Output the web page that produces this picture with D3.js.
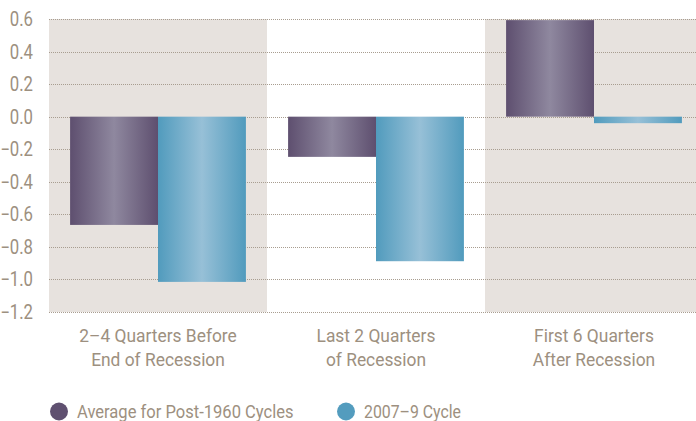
<!DOCTYPE html>
<html lang="en">
<head>
<meta charset="utf-8">
<title>Recession cycles</title>
<script src="https://d3js.org/d3.v7.min.js"></script>
<style>
  body { margin: 0; background: #fff; }
  svg text { font-family: "Roboto", sans-serif; fill: #9d9080; }
</style>
</head>
<body>
<script>
// data
const categories = ["2\u20134 Quarters Before|End of Recession", "Last 2 Quarters|of Recession", "First 6 Quarters|After Recession"];
const seriesNames = ["Average for Post-1960 Cycles", "2007\u20139 Cycle"];
const avgPost1960 = [-0.665, -0.247, 0.593];
const cycle2007 = [-1.015, -0.888, -0.04];
const yTicks = [0.6, 0.4, 0.2, 0.0, -0.2, -0.4, -0.6, -0.8, -1.0, -1.2];

const w = 696, h = 421;
const mLeft = 49, mRight = 703, mTop = 19, mBottom = 312;

const svg = d3.select("body").append("svg").attr("width", w).attr("height", h);

const x = d3.scaleBand().domain(d3.range(categories.length)).range([mLeft, mRight]);
const xs = d3.scaleBand().domain([0, 1]).range([0, x.bandwidth()]).paddingOuter(0.24).paddingInner(0);
const y = d3.scaleLinear().domain([-1.2, 0.6]).range([mBottom, mTop]);

// condensed look: squeeze text horizontally around its anchor point
function squeeze(sel, px, py, k) {
  sel.attr("transform", "translate(" + px + "," + py + ") scale(" + k + ",1)");
}

// gradients
const defs = svg.append("defs");
const grads = [["g0", "#5e4f6f", "#8f889f"], ["g1", "#519bbd", "#97c0d7"]];
grads.forEach(function(g) {
  const lg = defs.append("linearGradient").attr("id", g[0]).attr("x1", "0%").attr("x2", "100%").attr("y1", "0%").attr("y2", "0%");
  lg.append("stop").attr("offset", "0%").attr("stop-color", g[1]);
  lg.append("stop").attr("offset", "50%").attr("stop-color", g[2]);
  lg.append("stop").attr("offset", "100%").attr("stop-color", g[1]);
});

// shaded bands (1st and 3rd)
svg.selectAll("rect.band")
  .data([0, 2])
  .enter().append("rect")
  .attr("class", "band")
  .attr("x", d => x(d))
  .attr("y", y(0.6))
  .attr("width", x.bandwidth())
  .attr("height", y(-1.2) - y(0.6))
  .attr("fill", "#e7e2de");

// gridlines
svg.selectAll("line.grid")
  .data(yTicks)
  .enter().append("line")
  .attr("class", "grid")
  .attr("x1", mLeft).attr("x2", w)
  .attr("y1", d => Math.round(y(d)) + 0.5)
  .attr("y2", d => Math.round(y(d)) + 0.5)
  .attr("stroke", "#a89d90")
  .attr("stroke-width", 1)
  .attr("stroke-dasharray", "1,1");

// tick labels
svg.selectAll("text.tick")
  .data(yTicks)
  .enter().append("text")
  .attr("class", "tick")
  .attr("text-anchor", "end")
  .attr("font-size", "19.5px")
  .each(function(d) { squeeze(d3.select(this), 33, y(d) + 7, 0.86); })
  .text(d => d3.format(".1f")(d));

// bars
const series = [avgPost1960, cycle2007];
series.forEach(function(vals, s) {
  svg.selectAll("rect.s" + s)
    .data(vals)
    .enter().append("rect")
    .attr("class", "s" + s)
    .attr("x", (d, i) => x(i) + xs(s))
    .attr("y", d => y(Math.max(0, d)))
    .attr("width", xs.bandwidth())
    .attr("height", d => Math.abs(y(d) - y(0)))
    .attr("fill", "url(#g" + s + ")");
});

// category labels
categories.forEach(function(c, i) {
  const cx = x(i) + x.bandwidth() / 2;
  c.split("|").forEach(function(line, k) {
    const t = svg.append("text")
      .attr("text-anchor", "middle")
      .attr("font-size", "18.5px")
      .text(line);
    squeeze(t, cx, 342 + k * 24, 0.94);
  });
});

// legend
const legendX = [59, 346];
const colors = ["#5f5070", "#539cbe"];
seriesNames.forEach(function(n, i) {
  svg.append("circle").attr("cx", legendX[i]).attr("cy", 411.5).attr("r", 9).attr("fill", colors[i]);
  const t = svg.append("text").attr("font-size", "18px").text(n);
  squeeze(t, legendX[i] + 18, 418, i ? 0.88 : 0.92);
});
</script>
</body>
</html>
